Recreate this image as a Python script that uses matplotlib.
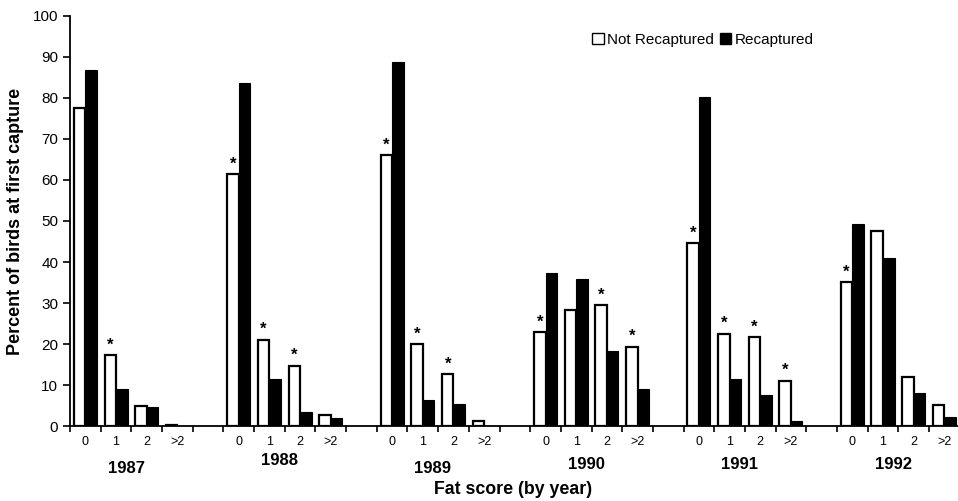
import matplotlib.pyplot as plt
from matplotlib.patches import Patch

plt.rcParams["font.family"] = ["Liberation Sans", "DejaVu Sans"]

years = ["1987", "1988", "1989", "1990", "1991", "1992"]
fat_scores = ["0", "1", "2", ">2"]

# percent of birds, per year, per fat score
not_recaptured = [
    [77.6, 17.3, 4.9, 0.4],
    [61.4, 21.1, 14.8, 2.8],
    [66.1, 20.1, 12.7, 1.3],
    [23.0, 28.4, 29.5, 19.4],
    [44.7, 22.6, 21.7, 11.1],
    [35.2, 47.6, 12.0, 5.3],
]
recaptured = [
    [86.7, 9.0, 4.6, 0.0],
    [83.7, 11.5, 3.6, 1.9],
    [88.7, 6.4, 5.4, 0.0],
    [37.4, 35.9, 18.3, 9.0],
    [80.2, 11.4, 7.6, 1.4],
    [49.3, 41.1, 8.0, 2.2],
]
# asterisk above the "not recaptured" bar
significant = [
    [0, 1, 0, 0],
    [1, 1, 1, 0],
    [1, 1, 1, 0],
    [1, 0, 1, 1],
    [1, 1, 1, 1],
    [1, 0, 0, 0],
]

fig = plt.figure(figsize=(9.58, 5.01), dpi=100)
ax = fig.add_axes([70 / 958, (501 - 426.3) / 501, 889.7 / 958, 410.6 / 501])

w = 0.375
n = len(fat_scores)
centers = []
labels = []
for yi, year in enumerate(years):
    for fi in range(n):
        slot = yi * (n + 1) + fi
        c = slot + 0.5
        centers.append(c)
        labels.append(fat_scores[fi])
        ax.bar(c - w / 2, not_recaptured[yi][fi], width=w, color="white",
               edgecolor="black", linewidth=1.6, zorder=2)
        ax.bar(c + w / 2, recaptured[yi][fi], width=w, color="black",
               edgecolor="black", linewidth=0.8, zorder=2)
        if significant[yi][fi]:
            ax.text(c - w / 2, not_recaptured[yi][fi] + 0.6, "*", ha="center",
                    va="bottom", fontsize=12, fontweight="bold")

nslots = len(years) * (n + 1) - 1
ax.set_xlim(0, nslots)
ax.set_ylim(0, 100)
ax.set_yticks(range(0, 101, 10))
ax.tick_params(axis="y", labelsize=11, length=5, width=1.2, direction="out")

ax.set_xticks(centers)
ax.set_xticklabels(labels, fontsize=9)
ax.tick_params(axis="x", which="major", length=0, pad=7)
ax.set_xticks(range(0, nslots + 1), minor=True)
ax.tick_params(axis="x", which="minor", length=4, width=1.2, direction="out")

for s in ["top", "right"]:
    ax.spines[s].set_visible(False)
ax.spines["left"].set_linewidth(1.3)
ax.spines["bottom"].set_linewidth(1.3)

# vertical offset of each year label below the axis, in pixels
year_dy = [42, 34, 42, 38, 38, 38]
for yi, year in enumerate(years):
    gc = yi * (n + 1) + n / 2 - 0.17
    ax.annotate(year, xy=(gc, 0), xycoords="data", xytext=(0, -year_dy[yi]),
                textcoords="offset pixels", ha="center", va="center",
                fontsize=12, fontweight="bold")

ax.set_ylabel("Percent of birds at first capture", fontsize=13,
              fontweight="bold", labelpad=6)
fig.text(513 / 958, 1 - 490 / 501, "Fat score (by year)", ha="center",
         va="center", fontsize=12.8, fontweight="bold")

handles = [Patch(facecolor="white", edgecolor="black", linewidth=1.0),
           Patch(facecolor="black", edgecolor="black")]
fig.legend(handles, ["Not Recaptured", "Recaptured"], loc="center",
           bbox_to_anchor=(703 / 958, 1 - 40 / 501), ncol=2, frameon=False,
           fontsize=11, handlelength=0.75, handleheight=0.75,
           handletextpad=0.2, columnspacing=0.4, borderaxespad=0)

fig.savefig("out.png", dpi=100)
